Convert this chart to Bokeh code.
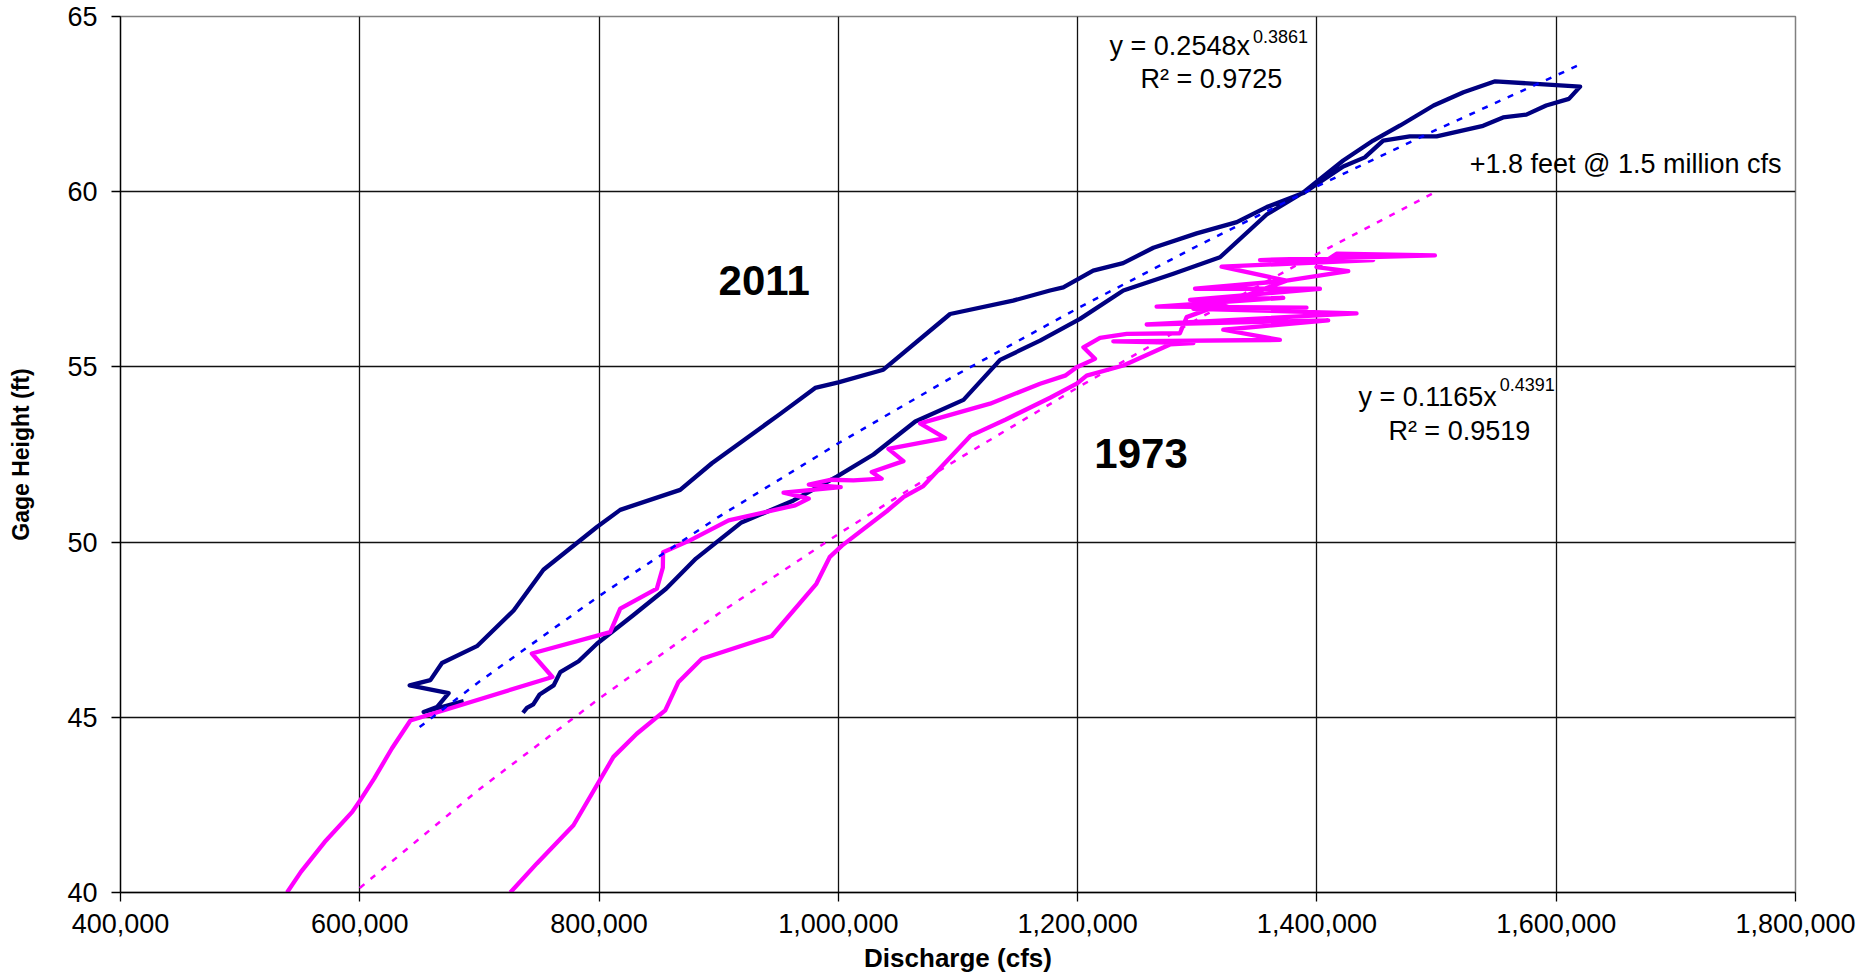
from bokeh.plotting import figure
from bokeh.models import FixedTicker, NumeralTickFormatter, Label, Range1d
from bokeh.embed import file_html
from bokeh.resources import INLINE

# ---------------- data ----------------
# 2011 rating loop (discharge cfs, gage height ft)
q2011 = [736400, 739700, 745000, 750300, 762000, 767600, 782900, 798200, 828800, 856000,
         881000, 918500, 962500, 998700, 1029300, 1064300, 1104600, 1135200, 1168600, 1202000,
         1238200, 1280000, 1319000, 1358000, 1388600, 1422000, 1447000, 1469600, 1497500, 1522500,
         1549000, 1620000, 1610600, 1591600, 1575000, 1555600, 1538900, 1500000, 1477600, 1455400,
         1440000, 1422000, 1388600, 1358000, 1333000, 1299500, 1263300, 1238000, 1213000, 1188000,
         1176900, 1146000, 1093400, 1037600, 1000000, 980600, 951400, 894300, 867800, 817700,
         798200, 753500, 728600, 697900, 668700, 659000, 641700, 674300, 664500, 653400,
         686800]
h2011 = [45.13, 45.27, 45.37, 45.65, 45.91, 46.29, 46.60, 47.10, 47.92, 48.67,
         49.53, 50.55, 51.19, 51.87, 52.50, 53.44, 54.06, 55.20, 55.75, 56.37,
         57.18, 57.66, 58.13, 59.35, 59.98, 60.89, 61.46, 61.89, 62.46, 62.84,
         63.15, 63.00, 62.65, 62.46, 62.20, 62.12, 61.88, 61.58, 61.58, 61.46,
         60.98, 60.72, 59.96, 59.56, 59.13, 58.81, 58.40, 57.96, 57.75, 57.27,
         57.18, 56.89, 56.51, 54.92, 54.56, 54.40, 53.66, 52.25, 51.49, 50.92,
         50.43, 49.21, 48.05, 47.03, 46.55, 46.06, 45.91, 45.69, 45.29, 45.15,
         45.46]

# 1973 rating loop
q1973 = [725800, 748000, 778600, 812000, 831500, 855300, 866400, 885900, 944300, 981600,
         992700, 1003000, 1040400, 1054300, 1071000, 1110700, 1140000, 1177000, 1199200, 1207500,
         1238200, 1277200, 1296700, 1229800, 1369100, 1321700, 1409400, 1257700, 1433100, 1296700,
         1391300, 1266000, 1371900, 1293900, 1402500, 1298100, 1374600, 1320300, 1447000, 1352400,
         1498600, 1416400, 1399700, 1426200, 1374600, 1291100, 1285500, 1241000, 1218700, 1204800,
         1214500, 1199200, 1189500, 1168600, 1126800, 1068300, 1089200, 1041800, 1054400, 1027900,
         1036200, 1012600, 993400, 975300, 1002000, 954200, 975300, 964000, 908300, 876000,
         853500, 853300, 848300, 817700, 809300, 743800, 761000, 642300, 626800, 612000,
         600300, 593700, 570600, 550800, 539200]
h1973 = [40.00, 40.83, 41.92, 43.87, 44.53, 45.20, 46.01, 46.67, 47.32, 48.81,
         49.57, 49.90, 50.88, 51.28, 51.60, 53.04, 53.50, 54.12, 54.52, 54.75,
         55.04, 55.64, 55.68, 55.73, 55.77, 56.06, 56.33, 56.21, 56.53, 56.66,
         56.69, 56.72, 56.97, 56.91, 57.23, 57.23, 57.46, 57.86, 58.05, 58.05,
         58.18, 58.23, 57.85, 57.73, 57.46, 56.42, 55.96, 55.94, 55.83, 55.56,
         55.23, 54.99, 54.75, 54.52, 53.95, 53.39, 52.97, 52.66, 52.31, 52.00,
         51.81, 51.76, 51.78, 51.64, 51.57, 51.41, 51.24, 51.05, 50.62, 50.05,
         49.71, 49.27, 48.67, 48.10, 47.43, 46.82, 46.15, 44.91, 44.11, 43.25,
         42.63, 42.30, 41.44, 40.59, 40.00]

# power trend lines (values as shown on the chart)
trend2011_q = [650000, 700000, 800000, 900000, 1000000, 1100000, 1200000, 1300000, 1400000, 1500000, 1620000]
trend2011_h = [44.72, 46.02, 48.46, 50.72, 52.82, 54.80, 56.67, 58.45, 60.15, 61.77, 63.63]
trend1973_q = [600000, 700000, 800000, 900000, 1000000, 1100000, 1200000, 1300000, 1400000, 1500000]
trend1973_h = [40.13, 42.95, 45.53, 47.96, 50.23, 52.37, 54.41, 56.36, 58.22, 60.01]

x_ticks = [400000, 600000, 800000, 1000000, 1200000, 1400000, 1600000, 1800000]
y_ticks = [40, 45, 50, 55, 60, 65]

FONT = "Liberation Sans"
NAVY = "#000080"
MAGENTA = "#FF00FF"
BLUE = "#0000FF"

p = figure(width=1856, height=979,
           x_range=Range1d(400000, 1800000), y_range=Range1d(40, 65),
           output_backend="svg", toolbar_location=None,
           min_border_left=120, min_border_right=61,
           min_border_top=16, min_border_bottom=87)

p.background_fill_color = "white"
p.border_fill_color = "white"
p.outline_line_color = "#808080"
p.outline_line_width = 1.5

# axes
p.xaxis.ticker = FixedTicker(ticks=x_ticks)
p.xaxis.formatter = NumeralTickFormatter(format="0,0")
p.yaxis.ticker = FixedTicker(ticks=y_ticks)
p.xgrid.ticker = FixedTicker(ticks=x_ticks[1:-1])
p.ygrid.ticker = FixedTicker(ticks=y_ticks[1:-1])
for g in (p.xgrid, p.ygrid):
    g.grid_line_color = "#111111"
    g.grid_line_width = 1.3

for ax in (p.xaxis, p.yaxis):
    ax.axis_line_color = "black"
    ax.axis_line_width = 1.3
    ax.major_tick_line_color = "black"
    ax.major_tick_line_width = 1.3
    ax.major_tick_out = 9
    ax.major_tick_in = 0
    ax.minor_tick_line_color = None
    ax.major_label_text_font = FONT
    ax.major_label_text_font_size = "27px"
    ax.major_label_text_color = "black"
    ax.axis_label_text_font = FONT
    ax.axis_label_text_font_style = "bold"
    ax.axis_label_text_color = "black"

p.xaxis.axis_label = "Discharge (cfs)"
p.yaxis.axis_label = "Gage Height (ft)"
p.xaxis.axis_label_text_font_size = "26px"
p.yaxis.axis_label_text_font_size = "23px"
p.xaxis.major_label_standoff = 12
p.xaxis.axis_label_standoff = 7
p.yaxis.major_label_standoff = 14
p.yaxis.axis_label_standoff = 30

# data lines
p.line(q2011, h2011, line_color=NAVY, line_width=4.3, line_join="round")
p.line(q1973, h1973, line_color=MAGENTA, line_width=4.3, line_join="round")

# trend lines
p.line(trend2011_q, trend2011_h, line_color=BLUE, line_width=2.5, line_dash="6 8")
p.line(trend1973_q, trend1973_h, line_color=MAGENTA, line_width=2.5, line_dash="6 8")

def lab(x, y, text, size, align="left", bold=False):
    p.add_layout(Label(x=x, y=y, text=text, text_font=FONT, text_font_size=size,
                       text_align=align, text_baseline="middle", text_color="black",
                       text_font_style="bold" if bold else "normal"))

# 2011 trend equation
lab(1344000, 64.17, "y = 0.2548x", "27px", align="right")
lab(1346500, 64.42, "0.3861", "18px")
lab(1311800, 63.23, "R\u00b2 = 0.9725", "27px", align="center")
# annotation
lab(1658000, 60.80, "+1.8 feet @ 1.5 million cfs", "27px", align="center")
# 1973 trend equation
lab(1550300, 54.13, "y = 0.1165x", "27px", align="right")
lab(1552800, 54.50, "0.4391", "18px")
lab(1519000, 53.18, "R\u00b2 = 0.9519", "27px", align="center")
# year labels
lab(938000, 57.46, "2011", "42px", align="center", bold=True)
lab(1253000, 52.53, "1973", "42px", align="center", bold=True)

open("out.html", "w").write(file_html(p, INLINE))
